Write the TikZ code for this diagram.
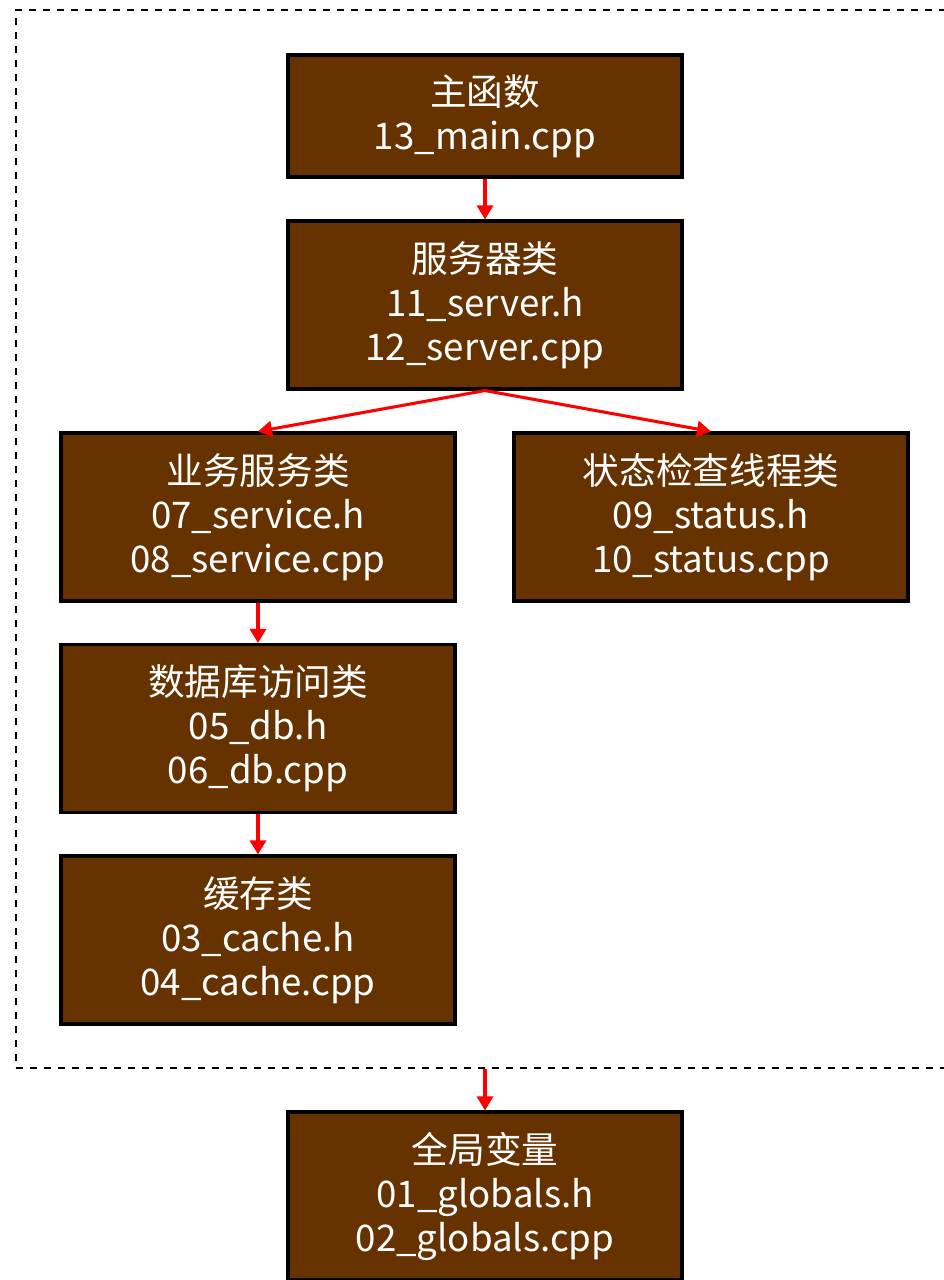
\documentclass[tikz,border=0pt]{standalone}
\usepackage{fontspec}
\setmainfont{Noto Sans CJK SC}
\usetikzlibrary{arrows.meta}
\definecolor{boxbrown}{HTML}{663300}
\definecolor{arrred}{HTML}{FF0000}
\tikzset{
  filebox/.style={draw=black, line width=2.3pt, fill=boxbrown, text=white,
    minimum width=295.5pt, minimum height=126pt, inner sep=0pt,
    align=center, font=\fontsize{27.5}{33}\selectfont},
  link/.style={draw=arrred, line width=2.3pt,
    -{Triangle[length=10.5pt,width=12pt]}},
  groupbox/.style={draw=black, line width=1.3pt, dash pattern=on 5.25pt off 5.25pt,
    minimum width=708pt, minimum height=793.5pt, inner sep=0pt}
}
\begin{document}
\begin{tikzpicture}[x=0.75pt,y=-0.75pt]
\useasboundingbox (0,0) rectangle (944,1280);
\clip (0,0) rectangle (944,1280);
\node[groupbox] (group) at (488,539) {};
\node[filebox, minimum height=91.5pt] (main) at (485,116) {主函数\\13\_main.cpp};
\node[filebox] (server) at (485,305) {服务器类\\11\_server.h\\12\_server.cpp};
\node[filebox] (service) at (258,517) {业务服务类\\07\_service.h\\08\_service.cpp};
\node[filebox] (status) at (711,517) {状态检查线程类\\09\_status.h\\10\_status.cpp};
\node[filebox] (db) at (258,728.5) {数据库访问类\\05\_db.h\\06\_db.cpp};
\node[filebox] (cache) at (258,940) {缓存类\\03\_cache.h\\04\_cache.cpp};
\node[filebox] (globals) at (485,1196) {全局变量\\01\_globals.h\\02\_globals.cpp};
\coordinate (gout) at (group.south -| globals.north);
\draw[link] (main.south) -- (server.north);
\draw[link] (server.south) -- (service.north);
\draw[link] (server.south) -- (status.north);
\draw[link] (service.south) -- (db.north);
\draw[link] (db.south) -- (cache.north);
\draw[link] (gout) -- (globals.north);
\end{tikzpicture}
\end{document}
